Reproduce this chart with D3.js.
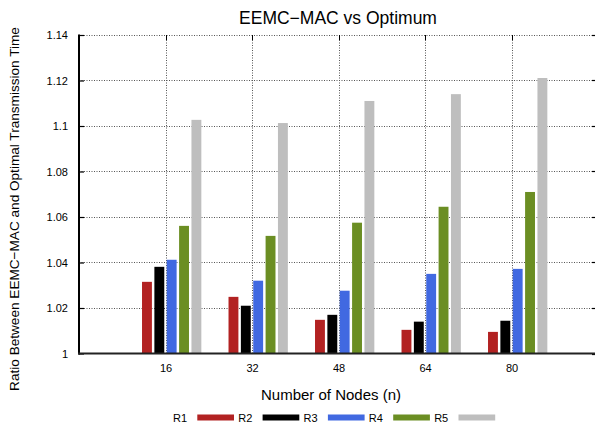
<!DOCTYPE html>
<html>
<head>
<meta charset="utf-8">
<script src="https://cdn.jsdelivr.net/npm/d3@7"></script>
<style>
  html, body { margin: 0; padding: 0; background: #fff; }
  svg { display: block; font-family: "Liberation Sans", Arial, Helvetica, sans-serif; }
</style>
</head>
<body>
<svg id="chart" width="595" height="427"></svg>
<script>
// ---- data ----
const categories = ["16", "32", "48", "64", "80"];
const seriesNames = ["R1", "R2", "R3", "R4", "R5"];
const seriesColors = ["#B22222", "#000000", "#4169E1", "#6B8E23", "#BEBEBE"];
const R1 = [1.0315, 1.0249, 1.0148, 1.0104, 1.0095];
const R2 = [1.0381, 1.0210, 1.0170, 1.0140, 1.0144];
const R3 = [1.0412, 1.0320, 1.0276, 1.0350, 1.0372];
const R4 = [1.0561, 1.0517, 1.0575, 1.0645, 1.0710];
const R5 = [1.1027, 1.1013, 1.1110, 1.1140, 1.1211];
const seriesValues = [R1, R2, R3, R4, R5];
const yTickValues = [1, 1.02, 1.04, 1.06, 1.08, 1.1, 1.12, 1.14];
const yTickLabels = ["1", "1.02", "1.04", "1.06", "1.08", "1.1", "1.12", "1.14"];
const titleText = "EEMC\u2212MAC vs Optimum";
const xLabelText = "Number of Nodes (n)";
const yLabelText = "Ratio Between EEMC\u2212MAC and Optimal Transmission Time";

// ---- layout ----
const pLeft = 79, pRight = 598, pTop = 35, pBottom = 353.5;
const svg = d3.select("#chart");

const x = d3.scaleLinear().domain([0, categories.length + 1]).range([pLeft, pRight]);
const y = d3.scaleLinear().domain([1, 1.14]).range([pBottom, pTop]);
const nS = seriesNames.length;
const pitch = 1 / (nS + 2);
const bw = pitch * 0.8;

// grid
const grid = svg.append("g");
grid.selectAll("line.hg").data(yTickValues.slice(1)).join("line")
  .attr("x1", pLeft).attr("x2", pRight)
  .attr("y1", d => Math.round(y(d)) + 0.5).attr("y2", d => Math.round(y(d)) + 0.5)
  .attr("stroke", "#555").attr("stroke-width", 1).attr("stroke-dasharray", "1,1.5");
grid.selectAll("line.vg").data(categories).join("line")
  .attr("x1", (d, i) => Math.round(x(i + 1)) + 0.5).attr("x2", (d, i) => Math.round(x(i + 1)) + 0.5)
  .attr("y1", pTop).attr("y2", pBottom)
  .attr("stroke", "#555").attr("stroke-width", 1).attr("stroke-dasharray", "1,1.5");

// bars
seriesValues.forEach((vals, j) => {
  svg.append("g").selectAll("rect").data(vals).join("rect")
    .attr("x", (d, i) => x(i + 1 + (j - 1.5) * pitch - bw / 2))
    .attr("width", x(bw) - x(0))
    .attr("y", d => y(d))
    .attr("height", d => y(1) - y(d))
    .attr("fill", seriesColors[j]);
});

// mirror ticks (top and right)
svg.append("g").selectAll("line").data(categories).join("line")
  .attr("x1", (d, i) => Math.round(x(i + 1)) + 0.5).attr("x2", (d, i) => Math.round(x(i + 1)) + 0.5)
  .attr("y1", pTop).attr("y2", pTop + 5).attr("stroke", "#000").attr("stroke-width", 1);
svg.append("g").selectAll("line").data(yTickValues).join("line")
  .attr("x1", pRight - 6).attr("x2", pRight)
  .attr("y1", d => Math.round(y(d)) + 0.5).attr("y2", d => Math.round(y(d)) + 0.5)
  .attr("stroke", "#000").attr("stroke-width", 1.2);

// y axis
const yAxis = d3.axisLeft(y).tickValues(yTickValues)
  .tickFormat((d, i) => yTickLabels[i]).tickSize(-5).tickPadding(11);
const gy = svg.append("g").attr("transform", `translate(${pLeft},0)`).call(yAxis);
gy.select(".domain").remove();
gy.selectAll(".tick line").attr("stroke", "#000").attr("stroke-width", 1.2);
gy.selectAll(".tick text").attr("font-size", 11).attr("fill", "#000")
  .attr("font-family", "Liberation Sans, Arial, sans-serif");
svg.append("line").attr("x1", pLeft).attr("x2", pLeft).attr("y1", pTop - 0.5).attr("y2", pBottom + 1)
  .attr("stroke", "#000").attr("stroke-width", 2);

// x axis
const xAxis = d3.axisBottom(x).tickValues(categories.map((c, i) => i + 1))
  .tickFormat((d, i) => categories[i]).tickSize(-5).tickPadding(11);
const gx = svg.append("g").attr("transform", `translate(0,${pBottom})`).call(xAxis);
gx.select(".domain").remove();
gx.selectAll(".tick line").remove();
gx.selectAll(".tick text").attr("font-size", 11).attr("fill", "#000")
  .attr("font-family", "Liberation Sans, Arial, sans-serif");
svg.append("line").attr("x1", pLeft - 1).attr("x2", pRight).attr("y1", pBottom).attr("y2", pBottom)
  .attr("stroke", "#222").attr("stroke-width", 1.8);

// title and labels
svg.append("text").attr("x", 338).attr("y", 24).attr("text-anchor", "middle")
  .attr("font-size", 17.5).attr("fill", "#000").text(titleText);
svg.append("text").attr("x", 331).attr("y", 400).attr("text-anchor", "middle")
  .attr("font-size", 15).attr("fill", "#000").text(xLabelText);
svg.append("text").attr("transform", "translate(19,209) rotate(-90)").attr("text-anchor", "middle")
  .attr("font-size", 13.6).attr("fill", "#000").text(yLabelText);

// legend
const legX0 = 187, legStep = 65.3, legY = 417.5;
const leg = svg.append("g");
seriesNames.forEach((name, k) => {
  leg.append("text").attr("x", legX0 + k * legStep).attr("y", legY + 4)
    .attr("text-anchor", "end").attr("font-size", 11).attr("fill", "#000").text(name);
  leg.append("rect").attr("x", legX0 + 10.3 + k * legStep).attr("y", legY - 3)
    .attr("width", 36.7).attr("height", 6).attr("fill", seriesColors[k]);
});
</script>
</body>
</html>
